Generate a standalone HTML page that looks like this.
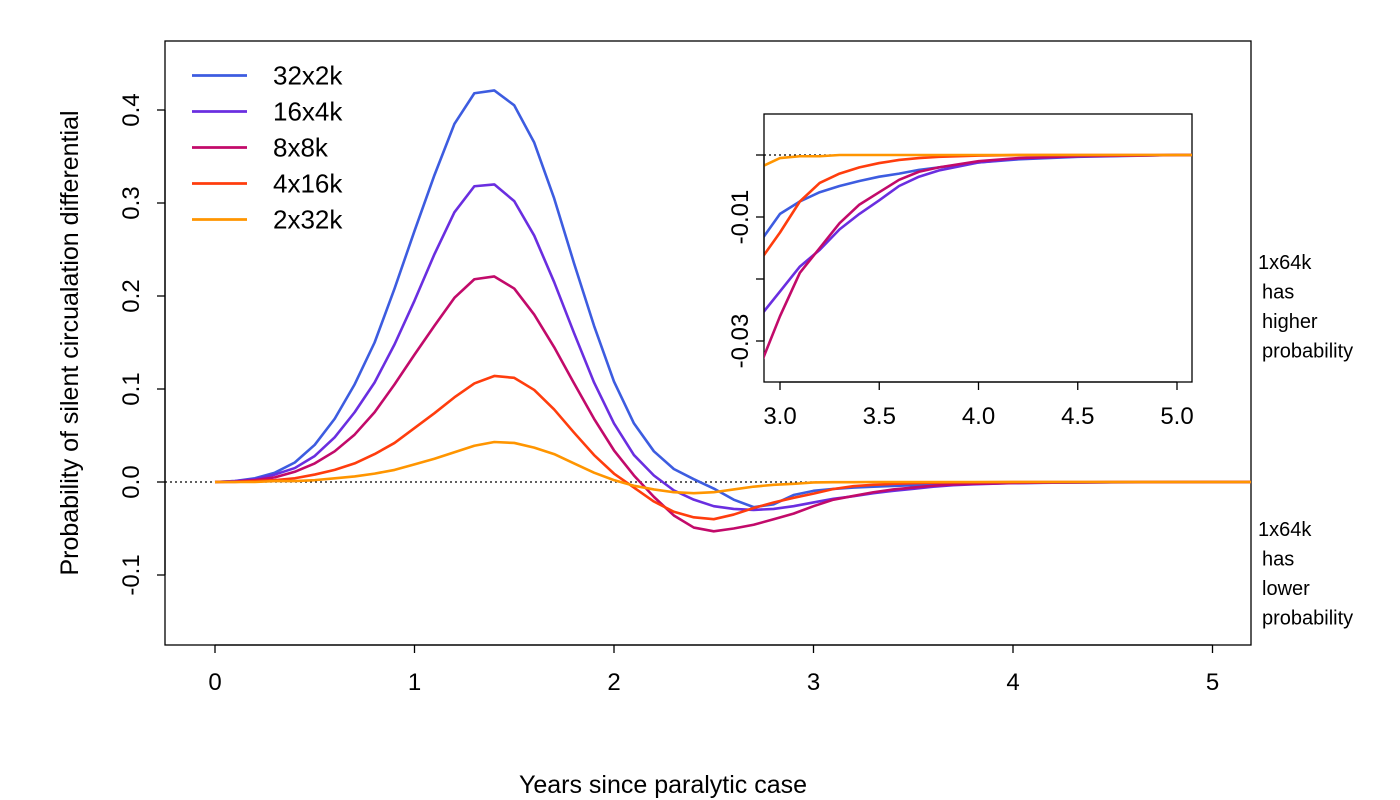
<!DOCTYPE html>
<html><head><meta charset="utf-8"><style>
body{margin:0;background:#fff;}
svg{display:block;font-family:"Liberation Sans",Arial,sans-serif;}
</style></head><body>
<svg id="chart" width="1400" height="800"></svg>
<script>
const xs=[0,0.1,0.2,0.3,0.4,0.5,0.6,0.7,0.8,0.9,1.0,1.1,1.2,1.3,1.4,1.5,1.6,1.7,1.8,1.9,2.0,2.1,2.2,2.3,2.4,2.5,2.6,2.7,2.8,2.9,3.0,3.1,3.2,3.3,3.4,3.5,3.6,3.7,3.8,4.0,4.2,4.5,5.0,5.2];
const s32x2k=[0,0.001,0.004,0.01,0.021,0.04,0.068,0.105,0.15,0.208,0.27,0.33,0.385,0.418,0.421,0.405,0.365,0.305,0.235,0.168,0.108,0.063,0.033,0.014,0.003,-0.007,-0.019,-0.027,-0.024,-0.014,-0.0095,-0.0075,-0.006,-0.005,-0.0042,-0.0035,-0.003,-0.0024,-0.002,-0.0012,-0.0007,-0.0003,0,0];
const s16x4k=[0,0.001,0.003,0.008,0.015,0.028,0.048,0.075,0.107,0.148,0.195,0.245,0.29,0.318,0.32,0.302,0.265,0.215,0.16,0.107,0.063,0.029,0.007,-0.009,-0.019,-0.026,-0.029,-0.03,-0.029,-0.026,-0.022,-0.018,-0.0153,-0.012,-0.0095,-0.0073,-0.005,-0.0035,-0.0025,-0.0012,-0.0006,-0.0002,0,0];
const s8x8k=[0,0.0005,0.002,0.005,0.011,0.02,0.033,0.051,0.075,0.105,0.137,0.168,0.198,0.218,0.221,0.208,0.18,0.145,0.106,0.068,0.034,0.007,-0.016,-0.036,-0.049,-0.053,-0.05,-0.046,-0.04,-0.034,-0.026,-0.019,-0.015,-0.011,-0.008,-0.006,-0.004,-0.0027,-0.002,-0.001,-0.0005,-0.0002,0,0];
const s4x16k=[0,0,0.001,0.002,0.004,0.008,0.013,0.02,0.03,0.042,0.058,0.074,0.091,0.106,0.114,0.112,0.099,0.078,0.053,0.029,0.009,-0.006,-0.021,-0.032,-0.038,-0.04,-0.035,-0.028,-0.022,-0.017,-0.0125,-0.0075,-0.0045,-0.003,-0.002,-0.0013,-0.0008,-0.0005,-0.0003,-0.0001,0,0,0,0];
const s2x32k=[0,0,0,0.001,0.001,0.002,0.004,0.006,0.009,0.013,0.019,0.025,0.032,0.039,0.043,0.042,0.037,0.03,0.02,0.01,0.002,-0.004,-0.008,-0.011,-0.012,-0.011,-0.008,-0.005,-0.003,-0.002,-0.0005,-0.0002,-0.0002,0,0,0,0,0,0,0,0,0,0,0];
const seriesNames=["32x2k","16x4k","8x8k","4x16k","2x32k"];
const seriesColors=["#3d5ce0","#6a2ee0","#c20a6a","#ff3d0d","#ff9500"];
const seriesData=[s32x2k,s16x4k,s8x8k,s4x16k,s2x32k];
const xTicks=[0,1,2,3,4,5];
const yTicks=[-0.1,0,0.1,0.2,0.3,0.4];
const inXTicks=[3.0,3.5,4.0,4.5,5.0];
const inYTicks=[0,-0.01,-0.02,-0.03];
const inYLabels=["","-0.01","","-0.03"];

const NS="http://www.w3.org/2000/svg";
const svg=document.getElementById('chart');
function mk(t,a,p){const e=document.createElementNS(NS,t);for(const k in a)e.setAttribute(k,a[k]);(p||svg).appendChild(e);return e;}
const X=v=>215+(v)*199.5, Y=v=>482-v*930;
const IX=v=>780+(v-3)*198.5, IY=v=>155-v*6200;

let b=mk('rect',{x:165,y:41,width:1086,height:604,fill:'none',stroke:'#000','stroke-width':1.3});

let z=mk('line',{x1:165,x2:1251,y1:Y(0),y2:Y(0),stroke:'#000','stroke-dasharray':'2,3','stroke-width':1.2});

const gx=mk('g',{});
mk('line',{x1:X(0),x2:X(5),y1:645,y2:645,stroke:'#000','stroke-width':1.3},gx);
xTicks.forEach(t=>{mk('line',{x1:X(t),x2:X(t),y1:645,y2:653,stroke:'#000','stroke-width':1.3},gx);
 const tx=mk('text',{x:X(t),y:690,'font-size':24,'text-anchor':'middle'},gx);tx.textContent=t;
 });
const gy=mk('g',{});
mk('line',{x1:165,x2:165,y1:Y(-0.1),y2:Y(0.4),stroke:'#000','stroke-width':1.3},gy);
yTicks.forEach(t=>{mk('line',{x1:157,x2:165,y1:Y(t),y2:Y(t),stroke:'#000','stroke-width':1.3},gy);
 const tx=mk('text',{x:0,y:0,'font-size':24,'text-anchor':'middle',transform:`translate(139,${Y(t)}) rotate(-90)`},gy);tx.textContent=t.toFixed(1);
 });
let xt=mk('text',{x:663,y:793,'font-size':25,'text-anchor':'middle'});xt.textContent='Years since paralytic case';

let yt=mk('text',{x:0,y:0,'font-size':25,'text-anchor':'middle',transform:'translate(78,343) rotate(-90)'});yt.textContent='Probability of silent circualation differential';


const clipM=mk('clipPath',{id:'cm'});mk('rect',{x:165,y:41,width:1086,height:604},clipM);
seriesData.forEach((d,i)=>{
 const p=mk('polyline',{points:xs.map((x,j)=>X(x)+','+Y(d[j])).join(' '),fill:'none',stroke:seriesColors[i],'stroke-width':2.6,'stroke-linejoin':'round','clip-path':'url(#cm)'});
 
});
const lg=mk('g',{});
seriesNames.forEach((n,i)=>{const y=75.5+i*36;
 const e=mk('g',{},lg);
 mk('line',{x1:192,x2:247,y1:y,y2:y,stroke:seriesColors[i],'stroke-width':2.8},e);
 const t=mk('text',{x:273,y:y+9,'font-size':26},e);t.textContent=n;});
function note(lines,y0,name){const g=mk('g',{});
 lines.forEach((l,i)=>{const t=mk('text',{x:i?1262:1258,y:y0+i*29.5,'font-size':20},g);t.textContent=l;});}
note(['1x64k','has','higher','probability'],269,'higher-note');
note(['1x64k','has','lower','probability'],536,'lower-note');

const ig=mk('g',{});
mk('rect',{x:764,y:114,width:428,height:268,fill:'#fff',stroke:'#000','stroke-width':1.3},ig);
mk('line',{x1:764,x2:1192,y1:IY(0),y2:IY(0),stroke:'#000','stroke-dasharray':'2,3','stroke-width':1.2},ig);
const clipI=mk('clipPath',{id:'ci'});mk('rect',{x:764,y:114,width:428,height:268},clipI);
seriesData.forEach((d,i)=>{
 const p=mk('polyline',{points:xs.map((x,j)=>IX(x)+','+IY(d[j])).join(' '),fill:'none',stroke:seriesColors[i],'stroke-width':2.6,'stroke-linejoin':'round','clip-path':'url(#ci)'},ig);
 
});
mk('line',{x1:IX(3),x2:IX(5),y1:382,y2:382,stroke:'#000','stroke-width':1.3},ig);
inXTicks.forEach(t=>{mk('line',{x1:IX(t),x2:IX(t),y1:382,y2:390,stroke:'#000','stroke-width':1.3},ig);
 const tx=mk('text',{x:IX(t),y:424,'font-size':24,'text-anchor':'middle'},ig);tx.textContent=t.toFixed(1);
 });
inYTicks.forEach((t,i)=>{mk('line',{x1:756,x2:764,y1:IY(t),y2:IY(t),stroke:'#000','stroke-width':1.3},ig);
 if(inYLabels[i]){const tx=mk('text',{x:0,y:0,'font-size':24,'text-anchor':'middle',transform:`translate(748,${IY(t)}) rotate(-90)`},ig);tx.textContent=inYLabels[i];
 }});
mk('line',{x1:764,x2:764,y1:IY(0),y2:IY(-0.03),stroke:'#000','stroke-width':1.3},ig);
</script>
</body></html>
